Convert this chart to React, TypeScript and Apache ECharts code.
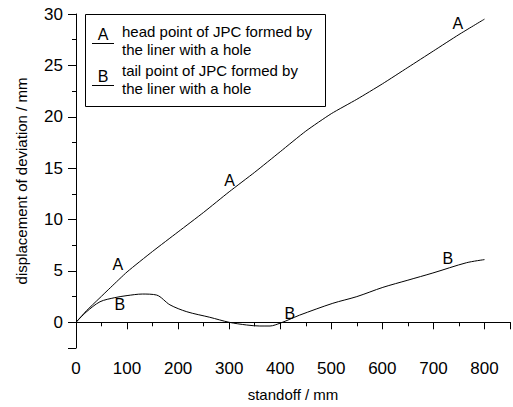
import React, { useEffect, useRef } from "react";
import * as echarts from "echarts";

const curveA: [number, number][] = [
  [0, 0], [20, 1.1], [45, 2.3], [68, 3.4], [100, 4.9], [150, 6.9], [200, 8.8],
  [250, 10.7], [300, 12.7], [350, 14.6], [400, 16.6], [450, 18.6], [500, 20.3],
  [550, 21.7], [600, 23.2], [650, 24.8], [700, 26.4], [750, 28.0], [800, 29.5],
];
const curveB: [number, number][] = [
  [0, 0], [20, 1.0], [47, 2.0], [76, 2.4], [100, 2.6], [130, 2.75], [158, 2.65],
  [184, 1.7], [217, 1.03], [262, 0.49], [300, 0.0], [334, -0.26], [360, -0.36],
  [380, -0.36], [400, -0.08], [419, 0.3], [438, 0.7], [503, 1.85], [550, 2.5],
  [601, 3.4], [650, 4.1], [699, 4.8], [765, 5.8], [800, 6.1],
];
const labelsA: [number, number][] = [[82, 5.6], [301, 13.8], [748, 29.1]];
const labelsB: [number, number][] = [[86, 1.7], [419, 0.9], [728, 6.2]];
const legendNames = ["A", "B"];
const legendLines = [
  ["head point of JPC formed by", "the liner with a hole"],
  ["tail point of JPC formed by", "the liner with a hole"],
];
const xName = "standoff / mm";
const yName = "displacement of deviation / mm";

const FONT = '"Liberation Sans", Arial, sans-serif';

export default function App() {
  const ref = useRef<HTMLDivElement>(null);
  useEffect(() => {
    document.body.style.margin = "0";
    const chart = echarts.init(ref.current!, null, { renderer: "svg" });
    const axisBase = {
      axisLine: { show: true, lineStyle: { color: "#000", width: 1 } },
      splitLine: { show: false },
    };
    const legendGraphics: any[] = [
      {
        type: "rect",
        shape: { x: 85.5, y: 14.5, width: 240, height: 92 },
        style: { fill: "#fff", stroke: "#000", lineWidth: 1 },
        z: 10,
      },
    ];
    legendNames.forEach((n, i) => {
      const ly = 43 + i * 42;
      legendGraphics.push({
        type: "line",
        shape: { x1: 92, y1: ly + 0.5, x2: 114, y2: ly + 0.5 },
        style: { stroke: "#000", lineWidth: 1 },
        z: 11,
      });
      legendGraphics.push({
        type: "text",
        x: 103,
        y: ly - 1,
        style: { text: n, fill: "#000", font: `16px ${FONT}`, align: "center", verticalAlign: "bottom" },
        z: 11,
      });
      legendLines[i].forEach((t, j) => {
        legendGraphics.push({
          type: "text",
          x: 122,
          y: 31 + i * 39 + j * 18,
          style: { text: t, fill: "#000", font: `15px ${FONT}`, verticalAlign: "middle" },
          z: 11,
        });
      });
    });

    const labelSeries = (data: [number, number][], text: string) => ({
      type: "scatter",
      data,
      symbolSize: 0,
      itemStyle: { color: "#000", opacity: 1 },
      label: {
        show: true,
        position: "inside",
        formatter: text,
        color: "#000",
        opacity: 1,
        fontSize: 16,
        fontFamily: FONT,
      },
      emphasis: { disabled: true },
      xAxisIndex: 0,
      yAxisIndex: 0,
    });

    chart.setOption({
      animation: false,
      backgroundColor: "#fff",
      grid: { left: 76, top: 14, right: 3, bottom: 59, containLabel: false },
      xAxis: [
        {
          ...axisBase,
          type: "value",
          min: 0,
          max: 850,
          interval: 50,
          axisTick: { show: true, length: 4, lineStyle: { color: "#000" } },
          axisLabel: { show: false },
        },
        {
          ...axisBase,
          type: "value",
          position: "bottom",
          min: 0,
          max: 850,
          splitNumber: 8,
          axisLine: { show: false },
          axisTick: { show: true, length: 7, lineStyle: { color: "#000" } },
          axisLabel: {
            show: true,
            margin: 12,
            color: "#000",
            fontSize: 17,
            fontFamily: FONT,
            formatter: (v: number) => (v % 100 === 0 ? String(v) : ""),
          },
          name: xName,
          nameLocation: "middle",
          nameGap: 39,
          nameTextStyle: { color: "#000", fontSize: 15, fontFamily: FONT },
        },
      ],
      yAxis: [
        {
          ...axisBase,
          type: "value",
          min: -2.5,
          max: 30,
          interval: 2.5,
          axisTick: { show: true, length: 4, lineStyle: { color: "#000" } },
          axisLabel: { show: false },
        },
        {
          ...axisBase,
          type: "value",
          position: "left",
          min: -2.5,
          max: 30,
          splitNumber: 7,
          axisLine: { show: false },
          axisTick: { show: true, length: 8, lineStyle: { color: "#000" } },
          axisLabel: {
            show: true,
            margin: 13,
            color: "#000",
            fontSize: 17,
            fontFamily: FONT,
            formatter: (v: number) => (v % 5 === 0 ? String(v) : ""),
          },
          name: yName,
          nameLocation: "middle",
          nameGap: 47,
          nameTextStyle: { color: "#000", fontSize: 15, fontFamily: FONT },
        },
      ],
      series: [
        {
          type: "line",
          data: curveA,
          showSymbol: false,
          smooth: 0.2,
          lineStyle: { color: "#000", width: 1 },
          xAxisIndex: 0,
          yAxisIndex: 0,
        },
        {
          type: "line",
          data: curveB,
          showSymbol: false,
          smooth: 0.3,
          lineStyle: { color: "#000", width: 1 },
          xAxisIndex: 0,
          yAxisIndex: 0,
        },
        labelSeries(labelsA, "A"),
        labelSeries(labelsB, "B"),
      ],
      graphic: legendGraphics,
    });
    return () => chart.dispose();
  }, []);
  return <div ref={ref} style={{ width: 513, height: 407 }} />;
}
